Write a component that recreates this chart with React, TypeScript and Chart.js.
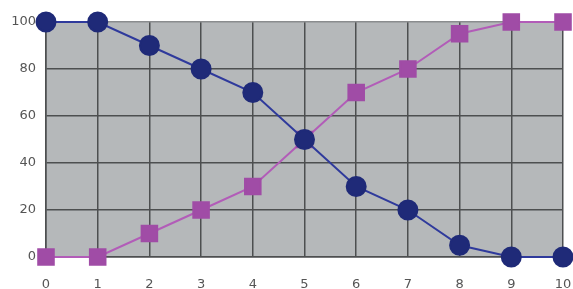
import React, { useEffect, useRef } from "react";
import { Chart, registerables } from "chart.js";

Chart.register(...registerables);

const xValues = [0, 1, 2, 3, 4, 5, 6, 7, 8, 9, 10];
const blueSeries = [100, 100, 90, 80, 70, 50, 30, 20, 5, 0, 0];
const magentaSeries = [0, 0, 10, 20, 30, 50, 70, 80, 95, 100, 100];

const plotBg = {
  id: "plotBg",
  beforeDraw(chart: any) {
    const { ctx, chartArea } = chart;
    ctx.save();
    ctx.fillStyle = "#b5b8ba";
    ctx.fillRect(chartArea.left, chartArea.top, chartArea.right - chartArea.left, chartArea.bottom - chartArea.top);
    ctx.restore();
  },
};

export default function App() {
  const ref = useRef<HTMLCanvasElement | null>(null);
  useEffect(() => {
    if (!ref.current) return;
    const chart = new Chart(ref.current, {
      type: "line",
      data: {
        datasets: [
          {
            label: "A",
            data: xValues.map((x, i) => ({ x, y: blueSeries[i] })),
            borderColor: "#2f3a9c",
            backgroundColor: "#1f2a78",
            pointBorderColor: "#1f2a78",
            borderWidth: 2,
            pointRadius: 9.5,
            pointStyle: "circle",
            clip: false as any,
          },
          {
            label: "B",
            data: xValues.map((x, i) => ({ x, y: magentaSeries[i] })),
            borderColor: "#b25cb8",
            backgroundColor: "#a04ca6",
            pointBorderColor: "#a04ca6",
            borderWidth: 2,
            pointRadius: 11,
            pointStyle: "rect",
            clip: false as any,
          },
        ],
      },
      options: {
        animation: false,
        responsive: false,
        maintainAspectRatio: false,
        layout: { padding: { top: 22, right: 0, left: 0, bottom: 0 } },
        plugins: { legend: { display: false }, tooltip: { enabled: false } },
        scales: {
          x: {
            type: "linear",
            min: 0,
            max: 10,
            ticks: { stepSize: 1, color: "#555", font: { family: "DejaVu Sans", size: 13 }, padding: 20 },
            grid: { color: "#4d4f50", lineWidth: 1.5, drawTicks: false },
            border: { color: "#4d4f50", width: 1.5 },
            afterFit(s: any) { s.height = 32; s.paddingRight = 0; s.paddingLeft = 0; },
          },
          y: {
            min: 0,
            max: 100,
            ticks: { stepSize: 20, color: "#555", font: { family: "DejaVu Sans", size: 13 }, padding: 10 },
            grid: { color: (c: any) => (c.tick && c.tick.value === 100 ? "#8a8c8e" : "#4d4f50"), lineWidth: 1.5, drawTicks: false },
            border: { color: "#4d4f50", width: 1.5 },
            afterFit(s: any) { s.width = 46; s.paddingTop = 0; s.paddingBottom = 0; },
          },
        },
      },
      plugins: [plotBg],
    });
    return () => chart.destroy();
  }, []);
  return (
    <div style={{ position: "fixed", left: 0, top: 0, width: 573, height: 289, overflow: "hidden", background: "#fff" }}>
      <canvas ref={ref} width={576} height={289} style={{ display: "block" }} />
    </div>
  );
}
